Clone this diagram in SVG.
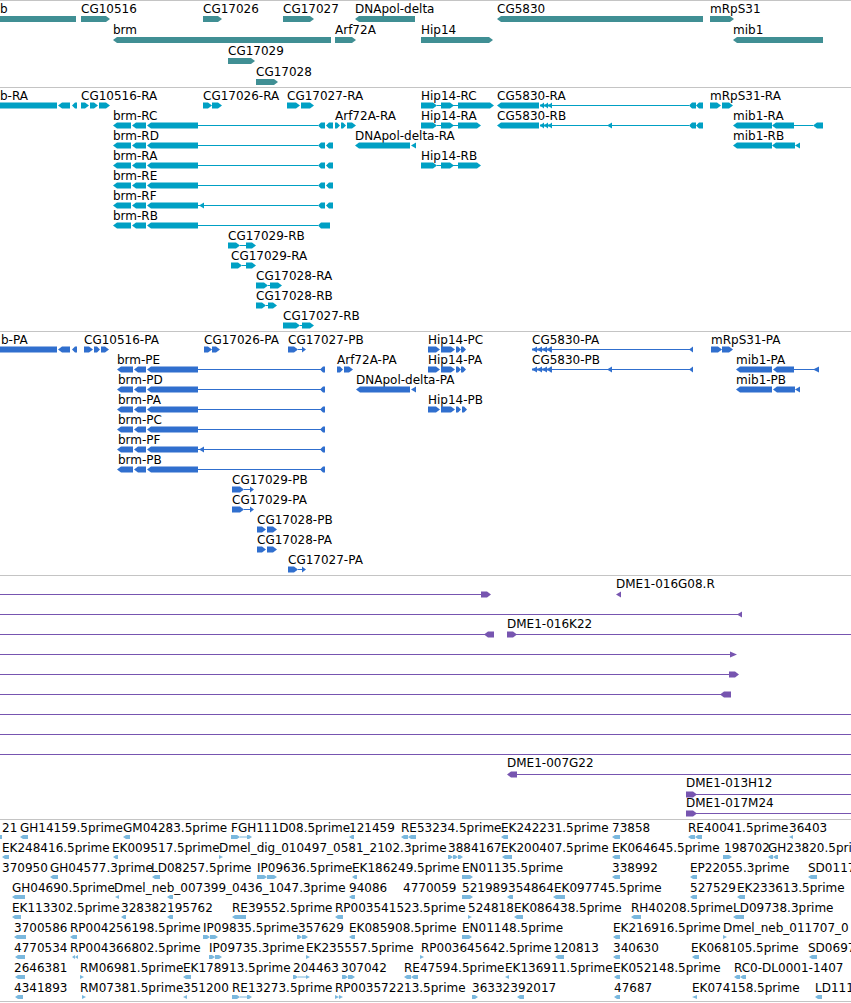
<svg xmlns="http://www.w3.org/2000/svg" xmlns:xlink="http://www.w3.org/1999/xlink" width="851" height="1003" viewBox="0 0 851 1003">
<style>
text{font-family:"DejaVu Sans","Liberation Sans",sans-serif;font-size:12px;fill:#000}
.gs{fill:#408f94}
.ts{fill:#00a0c4}
.ps{fill:#306fce}
.cs{fill:#7755b0}
.es{fill:#7ab8de}
.ln{fill:none;stroke-width:1}
.ts .ln{stroke:#00a0c4}
.ps .ln{stroke:#306fce}
.cs .ln{stroke:#7755b0}
.sep{stroke:#c4c4c4;stroke-width:1}
</style>
<defs>
<path id="brmT" d="M131,-3H117L113,0L117,3H131Z M146,-3H136L132,0L136,3H146Z M198,-3H151L147,0L151,3H198Z"/>
<path id="brmTe" d="M325,-3H321L318,0L321,3H325Z M333,-3H329L326,0L329,3H333Z"/>
<path id="brmP" d="M133,-3H121L117,0L121,3H133Z M146,-3H138L134,0L138,3H146Z M198,-3H151L147,0L151,3H198Z M325,-3H323L320,0L323,3H325Z"/>
<path id="bStub" d="M0,-3H57V3H0Z M70,-3H62L58,0L62,3H70Z M77,-3H75L72,0L75,3H77Z"/>
<path id="hip3" d="M421,-3H433L437,0L433,3H421Z M441,-3H450L454,0L450,3H441Z M458,-3H477L481,0L477,3H458Z"/>
<g id="cg5830T"><path d="M539,-3H501L497,0L501,3H539Z M544,-3L540,0L544,3Z M548,-3L544,0L548,3Z M552,-3L548,0L552,3Z M696,-3H692L689,0L692,3H696Z M703,-3H699L696,0L699,3H703Z"/><path d="M540,-1H552V1H540Z"/></g>
<g id="cg5830P"><path d="M537,-3L532,0L537,3Z M542,-3L537,0L542,3Z M547,-3L542,0L547,3Z M552,-3H551L547,0L551,3H552Z M693,-3L689,0L693,3Z"/><path d="M532,-1H552V1H532Z"/></g>
<path id="hipP" d="M428,-3H436L440,0L436,3H428Z M441,-3H451L455,0L451,3H441Z M456,-3H458L461,0L458,3H456Z M461,-3H463L466,0L463,3H461Z"/>
</defs>

<g id="separators">
<line class="sep" x1="0" y1="0.5" x2="851" y2="0.5"/>
<line class="sep" x1="0" y1="87.5" x2="851" y2="87.5"/>
<line class="sep" x1="0" y1="331.5" x2="851" y2="331.5"/>
<line class="sep" x1="0" y1="575.5" x2="851" y2="575.5"/>
<line class="sep" x1="0" y1="819.5" x2="851" y2="819.5"/>
<line class="sep" x1="0" y1="1001.5" x2="851" y2="1001.5"/>
</g>

<g id="genes" class="gs">
<g id="gene-b" transform="translate(0,19)"><text x="0" y="-6">b</text><path d="M0,-3H76V3H0Z"/></g>
<g id="gene-CG10516" transform="translate(0,19)"><text x="81" y="-6">CG10516</text><path d="M81,-3H106L110,0L106,3H81Z"/></g>
<g id="gene-CG17026" transform="translate(0,19)"><text x="203" y="-6">CG17026</text><path d="M203,-3H218L222,0L218,3H203Z"/></g>
<g id="gene-CG17027" transform="translate(0,19)"><text x="283" y="-6">CG17027</text><path d="M283,-3H310L314,0L310,3H283Z"/></g>
<g id="gene-DNApol-delta" transform="translate(0,19)"><text x="355" y="-6">DNApol-delta</text><path d="M415,-3H359L355,0L359,3H415Z"/></g>
<g id="gene-CG5830" transform="translate(0,19)"><text x="497" y="-6">CG5830</text><path d="M703,-3H501L497,0L501,3H703Z"/></g>
<g id="gene-mRpS31" transform="translate(0,19)"><text x="710" y="-6">mRpS31</text><path d="M710,-3H730L734,0L730,3H710Z"/></g>
<g id="gene-brm" transform="translate(0,40)"><text x="113" y="-6">brm</text><path d="M331,-3H117L113,0L117,3H331Z"/></g>
<g id="gene-Arf72A" transform="translate(0,40)"><text x="335" y="-6">Arf72A</text><path d="M335,-3H352L356,0L352,3H335Z"/></g>
<g id="gene-Hip14" transform="translate(0,40)"><text x="421" y="-6">Hip14</text><path d="M421,-3H489L493,0L489,3H421Z"/></g>
<g id="gene-mib1" transform="translate(0,40)"><text x="733" y="-6">mib1</text><path d="M823,-3H737L733,0L737,3H823Z"/></g>
<g id="gene-CG17029" transform="translate(0,61)"><text x="228" y="-6">CG17029</text><path d="M228,-3H251L255,0L251,3H228Z"/></g>
<g id="gene-CG17028" transform="translate(0,82)"><text x="256" y="-6">CG17028</text><path d="M256,-3H274L278,0L274,3H256Z"/></g>
</g>

<g id="transcripts" class="ts">
<g id="t-b-RA" transform="translate(0,105.5)"><text x="0" y="-6">b-RA</text><use xlink:href="#bStub"/></g>
<g id="t-CG10516-RA" transform="translate(0,105.5)"><text x="81" y="-6">CG10516-RA</text><path d="M81,-3H85L89,0L85,3H81Z M90,-3H94L98,0L94,3H90Z M99,-3H106L110,0L106,3H99Z"/></g>
<g id="t-CG17026-RA" transform="translate(0,105.5)"><text x="203" y="-6">CG17026-RA</text><path d="M203,-3H208L212,0L208,3H203Z M212,-3H218L222,0L218,3H212Z"/></g>
<g id="t-CG17027-RA" transform="translate(0,105.5)"><text x="287" y="-6">CG17027-RA</text><path d="M287,-3H296L300,0L296,3H287Z M301,-3H310L314,0L310,3H301Z"/></g>
<g id="t-Hip14-RC" transform="translate(0,105.5)"><text x="421" y="-6">Hip14-RC</text><path class="ln" d="M437,0H458"/><path d="M421,-3H433L437,0L433,3H421Z M441,-3H450L454,0L450,3H441Z M458,-3H490L494,0L490,3H458Z"/></g>
<g id="t-CG5830-RA" transform="translate(0,105.5)"><text x="497" y="-6">CG5830-RA</text><path class="ln" d="M552,0H689"/><use xlink:href="#cg5830T"/></g>
<g id="t-mRpS31-RA" transform="translate(0,105.5)"><text x="710" y="-6">mRpS31-RA</text><path d="M710,-3H717L721,0L717,3H710Z M722,-3H729L733,0L729,3H722Z"/></g>

<g id="t-brm-RC" transform="translate(0,125.5)"><text x="113" y="-6">brm-RC</text><path class="ln" d="M198,0H318"/><use xlink:href="#brmT"/><use xlink:href="#brmTe"/></g>
<g id="t-Arf72A-RA" transform="translate(0,125.5)"><text x="335" y="-6">Arf72A-RA</text><path d="M335,-3H337L340,0L337,3H335Z M341,-3H343L346,0L343,3H341Z M347,-3H352L356,0L352,3H347Z"/></g>
<g id="t-Hip14-RA" transform="translate(0,125.5)"><text x="421" y="-6">Hip14-RA</text><path class="ln" d="M437,0H458"/><use xlink:href="#hip3"/></g>
<g id="t-CG5830-RB" transform="translate(0,125.5)"><text x="497" y="-6">CG5830-RB</text><path class="ln" d="M552,0H689"/><use xlink:href="#cg5830T"/><path d="M612,-3L607,0L612,3Z"/></g>
<g id="t-mib1-RA" transform="translate(0,125.5)"><text x="733" y="-6">mib1-RA</text><path class="ln" d="M794,0H813"/><path d="M772,-3H737L733,0L737,3H772Z M794,-3H776L772,0L776,3H794Z M823,-3H817L813,0L817,3H823Z"/></g>

<g id="t-brm-RD" transform="translate(0,145.5)"><text x="113" y="-6">brm-RD</text><path class="ln" d="M198,0H318"/><use xlink:href="#brmT"/><use xlink:href="#brmTe"/></g>
<g id="t-DNApol-delta-RA" transform="translate(0,145.5)"><text x="355" y="-6">DNApol-delta-RA</text><path d="M410,-3H359L355,0L359,3H410Z M416,-3L411,0L416,3Z"/></g>
<g id="t-mib1-RB" transform="translate(0,145.5)"><text x="733" y="-6">mib1-RB</text><path d="M772,-3H737L733,0L737,3H772Z M795,-3H776L772,0L776,3H795Z M800,-3L795,0L800,3Z"/></g>

<g id="t-brm-RA" transform="translate(0,165.5)"><text x="113" y="-6">brm-RA</text><path class="ln" d="M198,0H318"/><use xlink:href="#brmT"/><use xlink:href="#brmTe"/></g>
<g id="t-Hip14-RB" transform="translate(0,165.5)"><text x="421" y="-6">Hip14-RB</text><path class="ln" d="M437,0H458"/><use xlink:href="#hip3"/></g>
<g id="t-brm-RE" transform="translate(0,185.5)"><text x="113" y="-6">brm-RE</text><path class="ln" d="M198,0H318"/><use xlink:href="#brmT"/><use xlink:href="#brmTe"/></g>
<g id="t-brm-RF" transform="translate(0,205.5)"><text x="113" y="-6">brm-RF</text><path class="ln" d="M198,0H318"/><use xlink:href="#brmT"/><use xlink:href="#brmTe"/><path d="M204,-3L199,0L204,3Z"/></g>
<g id="t-brm-RB" transform="translate(0,225.5)"><text x="113" y="-6">brm-RB</text><path class="ln" d="M198,0H318"/><use xlink:href="#brmT"/><path d="M330,-3H321L318,0L321,3H330Z"/></g>
<g id="t-CG17029-RB" transform="translate(0,245.5)"><text x="228" y="-6">CG17029-RB</text><path class="ln" d="M240,0H246"/><path d="M228,-3H236L240,0L236,3H228Z M246,-3H252L256,0L252,3H246Z"/></g>
<g id="t-CG17029-RA" transform="translate(0,265.5)"><text x="231" y="-6">CG17029-RA</text><path class="ln" d="M242,0H246"/><path d="M231,-3H238L242,0L238,3H231Z M246,-3H252L256,0L252,3H246Z"/></g>
<g id="t-CG17028-RA" transform="translate(0,285.5)"><text x="256" y="-6">CG17028-RA</text><path class="ln" d="M268,0H270"/><path d="M256,-3H264L268,0L264,3H256Z M270,-3H278L282,0L278,3H270Z"/></g>
<g id="t-CG17028-RB" transform="translate(0,305.5)"><text x="256" y="-6">CG17028-RB</text><path class="ln" d="M266,0H268"/><path d="M256,-3H262L266,0L262,3H256Z M268,-3H273L277,0L273,3H268Z"/></g>
<g id="t-CG17027-RB" transform="translate(0,325.5)"><text x="283" y="-6">CG17027-RB</text><path class="ln" d="M300,0H302"/><path d="M283,-3H296L300,0L296,3H283Z M302,-3H310L314,0L310,3H302Z"/></g>
</g>

<g id="proteins" class="ps">
<g id="p-b-PA" transform="translate(0,349.5)"><text x="1" y="-6">b-PA</text><use xlink:href="#bStub"/></g>
<g id="p-CG10516-PA" transform="translate(0,349.5)"><text x="84" y="-6">CG10516-PA</text><path d="M84,-3H89L93,0L89,3H84Z M94,-3H97L100,0L97,3H94Z M101,-3H105L109,0L105,3H101Z"/></g>
<g id="p-CG17026-PA" transform="translate(0,349.5)"><text x="204" y="-6">CG17026-PA</text><path d="M204,-3H208L212,0L208,3H204Z M212,-3H216L220,0L216,3H212Z"/></g>
<g id="p-CG17027-PB" transform="translate(0,349.5)"><text x="288" y="-6">CG17027-PB</text><path class="ln" d="M298,0H304"/><path d="M288,-3H294L298,0L294,3H288Z M302,-3L306,0L302,3Z"/></g>
<g id="p-Hip14-PC" transform="translate(0,349.5)"><text x="428" y="-6">Hip14-PC</text><use xlink:href="#hipP"/></g>
<g id="p-CG5830-PA" transform="translate(0,349.5)"><text x="532" y="-6">CG5830-PA</text><path class="ln" d="M552,0H692"/><use xlink:href="#cg5830P"/></g>
<g id="p-mRpS31-PA" transform="translate(0,349.5)"><text x="711" y="-6">mRpS31-PA</text><path d="M711,-3H718L722,0L718,3H711Z M722,-3H729L733,0L729,3H722Z"/></g>

<g id="p-brm-PE" transform="translate(0,369.5)"><text x="117" y="-6">brm-PE</text><path class="ln" d="M198,0H322"/><use xlink:href="#brmP"/></g>
<g id="p-Arf72A-PA" transform="translate(0,369.5)"><text x="337" y="-6">Arf72A-PA</text><path d="M337,-3H340L343,0L340,3H337Z M344,-3H349L353,0L349,3H344Z"/></g>
<g id="p-Hip14-PA" transform="translate(0,369.5)"><text x="428" y="-6">Hip14-PA</text><use xlink:href="#hipP"/></g>
<g id="p-CG5830-PB" transform="translate(0,369.5)"><text x="532" y="-6">CG5830-PB</text><path class="ln" d="M552,0H692"/><use xlink:href="#cg5830P"/><path d="M612,-3L607,0L612,3Z"/></g>
<g id="p-mib1-PA" transform="translate(0,369.5)"><text x="736" y="-6">mib1-PA</text><path class="ln" d="M794,0H815"/><path d="M772,-3H740L736,0L740,3H772Z M794,-3H777L773,0L777,3H794Z M819,-3L813,0L819,3Z"/></g>

<g id="p-brm-PD" transform="translate(0,389.5)"><text x="118" y="-6">brm-PD</text><path class="ln" d="M198,0H322"/><use xlink:href="#brmP"/></g>
<g id="p-DNApol-delta-PA" transform="translate(0,389.5)"><text x="356" y="-6">DNApol-delta-PA</text><path d="M410,-3H360L356,0L360,3H410Z M416,-3L411,0L416,3Z"/></g>
<g id="p-mib1-PB" transform="translate(0,389.5)"><text x="736" y="-6">mib1-PB</text><path d="M772,-3H740L736,0L740,3H772Z M795,-3H777L773,0L777,3H795Z M800,-3L795,0L800,3Z"/></g>

<g id="p-brm-PA" transform="translate(0,409.5)"><text x="118" y="-6">brm-PA</text><path class="ln" d="M198,0H322"/><use xlink:href="#brmP"/></g>
<g id="p-Hip14-PB" transform="translate(0,409.5)"><text x="428" y="-6">Hip14-PB</text><path d="M428,-3H436L440,0L436,3H428Z M441,-3H451L455,0L451,3H441Z M456,-3H458L461,0L458,3H456Z M462,-3H464L467,0L464,3H462Z"/></g>
<g id="p-brm-PC" transform="translate(0,429.5)"><text x="118" y="-6">brm-PC</text><path class="ln" d="M198,0H322"/><use xlink:href="#brmP"/></g>
<g id="p-brm-PF" transform="translate(0,449.5)"><text x="118" y="-6">brm-PF</text><path class="ln" d="M198,0H322"/><use xlink:href="#brmP"/><path d="M204,-3L199,0L204,3Z"/></g>
<g id="p-brm-PB" transform="translate(0,469.5)"><text x="118" y="-6">brm-PB</text><path class="ln" d="M198,0H322"/><use xlink:href="#brmP"/></g>
<g id="p-CG17029-PB" transform="translate(0,489.5)"><text x="232" y="-6">CG17029-PB</text><path class="ln" d="M244,0H252"/><path d="M232,-3H240L244,0L240,3H232Z M250,-3L254,0L250,3Z"/></g>
<g id="p-CG17029-PA" transform="translate(0,509.5)"><text x="232" y="-6">CG17029-PA</text><path class="ln" d="M244,0H252"/><path d="M232,-3H240L244,0L240,3H232Z M250,-3L254,0L250,3Z"/></g>
<g id="p-CG17028-PB" transform="translate(0,529.5)"><text x="257" y="-6">CG17028-PB</text><path d="M257,-3H262L266,0L262,3H257Z M267,-3H273L277,0L273,3H267Z"/></g>
<g id="p-CG17028-PA" transform="translate(0,549.5)"><text x="257" y="-6">CG17028-PA</text><path d="M257,-3H262L266,0L262,3H257Z M267,-3H273L277,0L273,3H267Z"/></g>
<g id="p-CG17027-PA" transform="translate(0,569.5)"><text x="288" y="-6">CG17027-PA</text><path class="ln" d="M298,0H304"/><path d="M288,-3H294L298,0L294,3H288Z M302,-3L306,0L302,3Z"/></g>
</g>

<g id="clones" class="cs">
<g id="c-1"><path class="ln" d="M0,594.5H484"/><path d="M481,591.5H487L491,594.5L487,597.5H481Z"/></g>
<g id="c-DME1-016G08R"><text x="616" y="588">DME1-016G08.R</text><path d="M621,591.5L616,594.5L621,597.5Z"/></g>
<g id="c-2"><path class="ln" d="M0,614.5H738"/><path d="M742,611.5L737,614.5L742,617.5Z"/></g>
<g id="c-3"><path class="ln" d="M0,634.5H486"/><path d="M494,631.5H488L484,634.5L488,637.5H494Z"/></g>
<g id="c-DME1-016K22"><text x="507" y="628">DME1-016K22</text><path class="ln" d="M515,634.5H851"/><path d="M507,631.5H513L517,634.5L513,637.5H507Z"/></g>
<g id="c-4"><path class="ln" d="M0,654.5H732"/><path d="M730,651.5L737,654.5L730,657.5Z"/></g>
<g id="c-5"><path class="ln" d="M0,674.5H731"/><path d="M729,671.5H735L739,674.5L735,677.5H729Z"/></g>
<g id="c-6"><path class="ln" d="M0,694.5H722"/><path d="M731,691.5H724L720,694.5L724,697.5H731Z"/></g>
<g id="c-7"><path class="ln" d="M0,714.5H851"/></g>
<g id="c-8"><path class="ln" d="M0,734.5H851"/></g>
<g id="c-9"><path class="ln" d="M0,754.5H851"/></g>
<g id="c-DME1-007G22"><text x="507" y="767">DME1-007G22</text><path class="ln" d="M510,774.5H851"/><path d="M517,771.5H511L507,774.5L511,777.5H517Z"/></g>
<g id="c-DME1-013H12"><text x="686" y="787">DME1-013H12</text><path class="ln" d="M690,794.5H851"/><path d="M686,791.5H693L697,794.5L693,797.5H686Z"/></g>
<g id="c-DME1-017M24"><text x="686" y="807">DME1-017M24</text><path class="ln" d="M690,813.5H851"/><path d="M686,810.5H693L697,813.5L693,816.5H686Z"/></g>
</g>

<g id="ests" class="es">
<g id="e-21"><text x="2" y="832">21</text><path d="M0,835H2V839H0Z"/></g>
<g id="e-GH14159"><text x="20" y="832">GH14159.5prime</text><path d="M28,835H23L20,837L23,839H28Z"/></g>
<g id="e-GM04283"><text x="123" y="832">GM04283.5prime</text><path d="M130,835H126L123,837L126,839H130Z"/></g>
<g id="e-FGH111D08"><text x="231" y="832">FGH111D08.5prime</text><path d="M231,835H237L240,837L237,839H231Z M240,836.5H247V837.5H240Z M247,835H249L252,837L249,839H247Z"/></g>
<g id="e-121459"><text x="349" y="832">121459</text><path d="M354,835H352L349,837L352,839H354Z"/></g>
<g id="e-RE53234"><text x="401" y="832">RE53234.5prime</text><path d="M408,835H404L401,837L404,839H408Z M416,835H411L408,837L411,839H416Z"/></g>
<g id="e-EK242231"><text x="501" y="832">EK242231.5prime</text><path d="M508,835H504L501,837L504,839H508Z"/></g>
<g id="e-73858"><text x="612" y="832">73858</text><path d="M620,835H615L612,837L615,839H620Z"/></g>
<g id="e-RE40041"><text x="688" y="832">RE40041.5prime</text><path d="M695,835H691L688,837L691,839H695Z M702,835H698L695,837L698,839H702Z"/></g>
<g id="e-36403"><text x="789" y="832">36403</text><path d="M793,835L789,837L793,839Z"/></g>

<g id="e-EK248416"><text x="2" y="852">EK248416.5prime</text><path d="M9,855H5L2,857L5,859H9Z"/></g>
<g id="e-EK009517"><text x="112" y="852">EK009517.5prime</text><path d="M118,855H116L113,857L116,859H118Z"/></g>
<g id="e-Dmel_dig"><text x="219" y="852">Dmel_dig_010497_0581_2102.3prime</text><path d="M219,855L223,857L219,859Z"/></g>
<g id="e-3884167"><text x="448" y="852">3884167</text><path d="M448,855H450L453,857L450,859H448Z M453,855H455L458,857L455,859H453Z M458,855H460L463,857L460,859H458Z"/></g>
<g id="e-EK200407"><text x="501" y="852">EK200407.5prime</text><path d="M512,855H505L502,857L505,859H512Z"/></g>
<g id="e-EK064645"><text x="612" y="852">EK064645.5prime</text><path d="M620,855H615L612,857L615,859H620Z"/></g>
<g id="e-198702"><text x="724" y="852">198702</text><path d="M723,855H729L732,857L729,859H723Z"/></g>
<g id="e-GH23820"><text x="768" y="852">GH23820.5prime</text><path d="M773,855H771L768,857L771,859H773Z M778,855H776L773,857L776,859H778Z"/></g>

<g id="e-370950"><text x="2" y="872">370950</text></g>
<g id="e-GH04577"><text x="50" y="872">GH04577.3prime</text><path d="M58,875H53L50,877L53,879H58Z"/></g>
<g id="e-LD08257"><text x="151" y="872">LD08257.5prime</text><path d="M160,875H155L152,877L155,879H160Z"/></g>
<g id="e-IP09636"><text x="257" y="872">IP09636.5prime</text><path d="M257,875H264L267,877L264,879H257Z M267,875H274L277,877L274,879H267Z"/></g>
<g id="e-EK186249"><text x="352" y="872">EK186249.5prime</text><path d="M357,875H355L352,877L355,879H357Z"/></g>
<g id="e-EN01135"><text x="462" y="872">EN01135.5prime</text><path d="M462,875H470L473,877L470,879H462Z"/></g>
<g id="e-338992"><text x="612" y="872">338992</text><path d="M620,875H615L612,877L615,879H620Z"/></g>
<g id="e-EP22055"><text x="690" y="872">EP22055.3prime</text><path d="M697,875H693L690,877L693,879H697Z"/></g>
<g id="e-SD0117"><text x="808" y="872">SD0117</text><path d="M817,875H811L808,877L811,879H817Z"/></g>

<g id="e-GH04690"><text x="12" y="892">GH04690.5prime</text><path d="M25,895H15L12,897L15,899H25Z"/></g>
<g id="e-Dmel_neb_007399"><text x="114" y="892">Dmel_neb_007399_0436_1047.3prime</text><path d="M119,895L115,897L119,899Z M173,895H170L167,897L170,899H173Z"/></g>
<g id="e-94086"><text x="349" y="892">94086</text><path d="M355,895H352L349,897L352,899H355Z"/></g>
<g id="e-4770059"><text x="403" y="892">4770059</text></g>
<g id="e-521989"><text x="462" y="892">521989</text><path d="M462,895H470L473,897L470,899H462Z"/></g>
<g id="e-354864"><text x="508" y="892">354864</text><path d="M513,895H510L507,897L510,899H513Z"/></g>
<g id="e-EK097745"><text x="554" y="892">EK097745.5prime</text><path d="M565,895H556L553,897L556,899H565Z"/></g>
<g id="e-527529"><text x="690" y="892">527529</text><path d="M697,895H693L690,897L693,899H697Z"/></g>
<g id="e-EK233613"><text x="737" y="892">EK233613.5prime</text><path d="M745,895H740L737,897L740,899H745Z"/></g>

<g id="e-EK113302"><text x="12" y="912">EK113302.5prime</text><path d="M21,915H15L12,917L15,919H21Z"/></g>
<g id="e-328382"><text x="121" y="912">328382</text><path d="M126,915H124L121,917L124,919H126Z"/></g>
<g id="e-195762"><text x="167" y="912">195762</text><path d="M173,915H170L167,917L170,919H173Z"/></g>
<g id="e-RE39552"><text x="232" y="912">RE39552.5prime</text><path d="M246,915H235L232,917L235,919H246Z"/></g>
<g id="e-RP003541523"><text x="335" y="912">RP003541523.5prime</text><path d="M343,915H338L335,917L338,919H343Z"/></g>
<g id="e-524818"><text x="468" y="912">524818</text><path d="M468,915L472,917L468,919Z"/></g>
<g id="e-EK086438"><text x="514" y="912">EK086438.5prime</text><path d="M523,915H517L514,917L517,919H523Z"/></g>
<g id="e-RH40208"><text x="631" y="912">RH40208.5prime</text><path d="M641,915H634L631,917L634,919H641Z"/></g>
<g id="e-LD09738"><text x="733" y="912">LD09738.3prime</text><path d="M744,915H736L733,917L736,919H744Z"/></g>

<g id="e-3700586"><text x="14" y="932">3700586</text><path d="M26,935H17L14,937L17,939H26Z"/></g>
<g id="e-RP004256198"><text x="70" y="932">RP004256198.5prime</text><path d="M77,935H73L70,937L73,939H77Z"/></g>
<g id="e-IP09835"><text x="203" y="932">IP09835.5prime</text><path d="M203,935H207L210,937L207,939H203Z M210,935H215L218,937L215,939H210Z"/></g>
<g id="e-357629"><text x="298" y="932">357629</text><path d="M297,935H299L302,937L299,939H297Z M302,935H305L308,937L305,939H302Z"/></g>
<g id="e-EK085908"><text x="349" y="932">EK085908.5prime</text><path d="M355,935H352L349,937L352,939H355Z"/></g>
<g id="e-EN01148"><text x="462" y="932">EN01148.5prime</text><path d="M462,935H469L472,937L469,939H462Z"/></g>
<g id="e-EK216916"><text x="613" y="932">EK216916.5prime</text><path d="M620,935H616L613,937L616,939H620Z"/></g>
<g id="e-Dmel_neb_011707"><text x="723" y="932">Dmel_neb_011707_0</text><path d="M723,935L727,937L723,939Z"/></g>

<g id="e-4770534"><text x="14" y="952">4770534</text><path d="M25,955H18L15,957L18,959H25Z"/></g>
<g id="e-RP004366802"><text x="70" y="952">RP004366802.5prime</text><path d="M75,955L72,957L75,959Z M78,955L75,957L78,959Z"/></g>
<g id="e-IP09735"><text x="209" y="952">IP09735.3prime</text><path d="M209,955H212L215,957L212,959H209Z M215,955H219L222,957L219,959H215Z"/></g>
<g id="e-EK235557"><text x="306" y="952">EK235557.5prime</text><path d="M306,955L310,957L306,959Z"/></g>
<g id="e-RP003645642"><text x="421" y="952">RP003645642.5prime</text><path d="M420,955L424,957L420,959Z"/></g>
<g id="e-120813"><text x="553" y="952">120813</text><path d="M564,955H558L555,957L558,959H564Z"/></g>
<g id="e-340630"><text x="613" y="952">340630</text><path d="M620,955H616L613,957L616,959H620Z"/></g>
<g id="e-EK068105"><text x="691" y="952">EK068105.5prime</text><path d="M699,955H695L692,957L695,959H699Z"/></g>
<g id="e-SD0697"><text x="808" y="952">SD0697</text><path d="M817,955H812L809,957L812,959H817Z"/></g>

<g id="e-2646381"><text x="14" y="972">2646381</text><path d="M25,975H18L15,977L18,979H25Z"/></g>
<g id="e-RM06981"><text x="80" y="972">RM06981.5prime</text><path d="M80,975L84,977L80,979Z"/></g>
<g id="e-EK178913"><text x="183" y="972">EK178913.5prime</text><path d="M191,975H186L183,977L186,979H191Z"/></g>
<g id="e-204463"><text x="293" y="972">204463</text><path d="M293,975H295L298,977L295,979H293Z M298,976.5H306V977.5H298Z M306,975L310,977L306,979Z"/></g>
<g id="e-307042"><text x="341" y="972">307042</text><path d="M342,975H345L348,977L345,979H342Z M348,975H352L355,977L352,979H348Z"/></g>
<g id="e-RE47594"><text x="404" y="972">RE47594.5prime</text><path d="M411,975H407L404,977L407,979H411Z M418,975H414L411,977L414,979H418Z"/></g>
<g id="e-EK136911"><text x="505" y="972">EK136911.5prime</text><path d="M509,975L505,977L509,979Z"/></g>
<g id="e-EK052148"><text x="613" y="972">EK052148.5prime</text><path d="M620,975H617L614,977L617,979H620Z"/></g>
<g id="e-RC0-DL0001"><text x="734" y="972">RC0-DL0001-1407</text><path d="M740,975H737L734,977L737,979H740Z M746,975H743L740,977L743,979H746Z"/></g>

<g id="e-4341893"><text x="14" y="992">4341893</text><path d="M23,995H18L15,997L18,999H23Z"/></g>
<g id="e-RM07381"><text x="80" y="992">RM07381.5prime</text><path d="M82,995L86,997L82,999Z"/></g>
<g id="e-351200"><text x="183" y="992">351200</text><path d="M187,995L183,997L187,999Z"/></g>
<g id="e-RE13273"><text x="232" y="992">RE13273.5prime</text><path d="M232,995H237L240,997L237,999H232Z M240,996.5H247V997.5H240Z M247,995H249L252,997L249,999H247Z"/></g>
<g id="e-RP003572213"><text x="335" y="992">RP003572213.5prime</text><path d="M335,995L339,997L335,999Z M339,995L343,997L339,999Z"/></g>
<g id="e-363323"><text x="472" y="992">363323</text><path d="M472,995H475L478,997L475,999H472Z"/></g>
<g id="e-92017"><text x="518" y="992">92017</text><path d="M524,995H520L517,997L520,999H524Z"/></g>
<g id="e-47687"><text x="614" y="992">47687</text><path d="M620,995H617L614,997L617,999H620Z"/></g>
<g id="e-EK074158"><text x="692" y="992">EK074158.5prime</text><path d="M697,995L692,997L697,999Z"/></g>
<g id="e-LD111"><text x="815" y="992">LD111</text><path d="M822,995H818L815,997L818,999H822Z"/></g>
</g>
</svg>
